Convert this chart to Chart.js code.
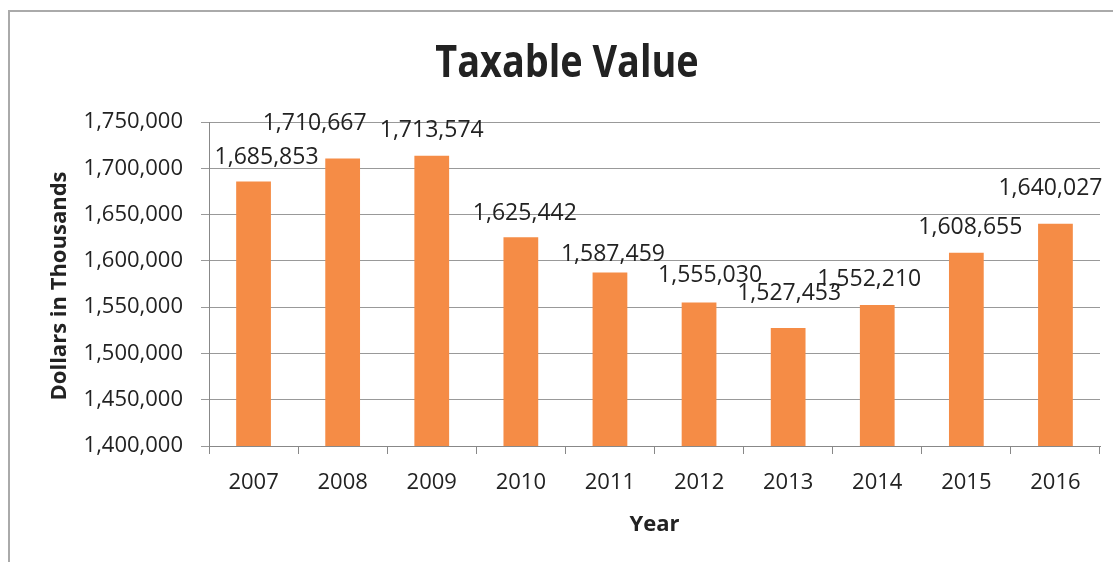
<!DOCTYPE html>
<html>
<head>
<meta charset="utf-8">
<script src="https://cdn.jsdelivr.net/npm/chart.js@4/dist/chart.umd.min.js"></script>
<style>
  html, body { margin: 0; padding: 0; background: #fff; }
  #wrap { position: relative; width: 1113px; height: 562px; }
</style>
</head>
<body>
<div id="wrap"><canvas id="c" width="1113" height="562"></canvas></div>
<script>
// ---- data ----
const years = ['2007', '2008', '2009', '2010', '2011', '2012', '2013', '2014', '2015', '2016'];
const taxableValue = [1685853, 1710667, 1713574, 1625442, 1587459, 1555030, 1527453, 1552210, 1608655, 1640027];
const yMin = 1400000;
const yMax = 1750000;
const yStep = 50000;
const chartTitle = 'Taxable Value';
const yTitle = 'Dollars in Thousands';
const xTitle = 'Year';

// ---- label placement (nudges relative to bar top, px) ----
const labelDX = [13, -28, 0, 4, 3, 11, 1, -8, 4, -5];
const labelDY = [-25, -36, -27, -25, -19, -28, -36, -27, -27, -37];

const fmt = v => Number(v).toLocaleString('en-US');
const TEXT = '#222';
const FONT = '"Open Sans", "Liberation Sans", sans-serif';

const decor = {
  id: 'decor',
  beforeDraw(chart) {
    const ctx = chart.ctx;
    ctx.save();
    ctx.fillStyle = '#fff';
    ctx.fillRect(0, 0, chart.width, chart.height);
    ctx.strokeStyle = '#aaa';
    ctx.lineWidth = 2;
    ctx.beginPath();
    ctx.moveTo(9, 562);
    ctx.lineTo(9, 11);
    ctx.lineTo(1113, 11);
    ctx.stroke();
    ctx.restore();
  },
  afterDraw(chart) {
    const ctx = chart.ctx;
    const area = chart.chartArea;
    ctx.save();
    ctx.fillStyle = TEXT;
    // title (narrowed to match the condensed face in the reference)
    ctx.save();
    ctx.font = 'bold 44px ' + FONT;
    ctx.textAlign = 'center';
    ctx.textBaseline = 'alphabetic';
    ctx.translate(567, 77);
    ctx.scale(0.86, 1);
    ctx.fillText(chartTitle, 0, 0);
    ctx.restore();
    ctx.textAlign = 'center';
    ctx.textBaseline = 'alphabetic';
    // x title
    ctx.font = 'bold 22px ' + FONT;
    ctx.fillText(xTitle, (area.left + area.right) / 2, 531);
    // y title
    ctx.save();
    ctx.translate(66, (area.top + area.bottom) / 2 + 2);
    ctx.rotate(-Math.PI / 2);
    ctx.fillText(yTitle, 0, 0);
    ctx.restore();
    // data labels
    ctx.font = '23px ' + FONT;
    const meta = chart.getDatasetMeta(0);
    meta.data.forEach((bar, i) => {
      const cx = bar.x + labelDX[i];
      const cy = bar.y + labelDY[i];
      ctx.fillText(fmt(taxableValue[i]), cx, cy + 8);
    });
    ctx.restore();
  }
};

new Chart(document.getElementById('c'), {
  type: 'bar',
  data: {
    labels: years,
    datasets: [{
      data: taxableValue,
      backgroundColor: '#F58C46',
      borderWidth: 0,
      barPercentage: 0.39,
      categoryPercentage: 1.0
    }]
  },
  options: {
    responsive: false,
    animation: false,
    devicePixelRatio: 1,
    layout: { padding: { top: 122, right: 13, left: 0, bottom: 0 } },
    plugins: {
      legend: { display: false },
      title: { display: false },
      tooltip: { enabled: false }
    },
    scales: {
      x: {
        offset: true,
        grid: {
          offset: true,
          drawOnChartArea: false,
          drawTicks: true,
          tickLength: 8,
          color: '#888'
        },
        border: { color: '#888', width: 1 },
        ticks: {
          color: TEXT,
          font: { family: FONT, size: 22 },
          padding: 16,
          maxRotation: 0
        },
        afterFit(s) { s.height = 116; }
      },
      y: {
        min: yMin,
        max: yMax,
        grid: {
          color: '#999',
          tickLength: 8,
          drawTicks: true
        },
        border: { color: '#888', width: 1 },
        ticks: {
          stepSize: yStep,
          color: TEXT,
          font: { family: FONT, size: 22 },
          padding: 18,
          callback: v => fmt(v)
        },
        afterFit(s) { s.width = 209; }
      }
    }
  },
  plugins: [decor]
});
</script>
</body>
</html>
